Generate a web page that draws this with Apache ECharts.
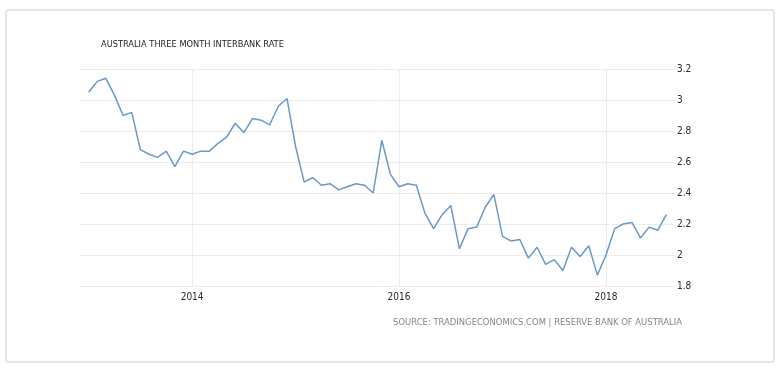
<!DOCTYPE html>
<html>
<head>
<meta charset="utf-8">
<script src="https://cdn.jsdelivr.net/npm/echarts@6/dist/echarts.min.js"></script>
<style>
  html, body { margin: 0; padding: 0; background: #fff; }
  #frame {
    position: absolute; left: 5px; top: 9px; width: 766px; height: 350px;
    border: 2px solid #e6e4e2; border-radius: 4px;
  }
  #chart { position: absolute; left: 0; top: 0; width: 782px; height: 376px; }
</style>
</head>
<body>
<div id="frame"></div>
<div id="chart"></div>
<script>
// monthly values, Jan..Dec
var years = ['2013', '2014', '2015', '2016', '2017', '2018']
var rate2013 = [3.05, 3.12, 3.14, 3.03, 2.90, 2.92, 2.68, 2.65, 2.63, 2.67, 2.57, 2.67]
var rate2014 = [2.65, 2.67, 2.67, 2.72, 2.76, 2.85, 2.79, 2.88, 2.87, 2.84, 2.96, 3.01]
var rate2015 = [2.70, 2.47, 2.50, 2.45, 2.46, 2.42, 2.44, 2.46, 2.45, 2.40, 2.74, 2.52]
var rate2016 = [2.44, 2.46, 2.45, 2.27, 2.17, 2.26, 2.32, 2.04, 2.17, 2.18, 2.31, 2.39]
var rate2017 = [2.12, 2.09, 2.10, 1.98, 2.05, 1.94, 1.97, 1.90, 2.05, 1.99, 2.06, 1.87]
var rate2018 = [2.00, 2.17, 2.20, 2.21, 2.11, 2.18, 2.16, 2.26]
var yearLabels = ['2014', '2016', '2018']

var FONT = '"DejaVu Sans Condensed", "DejaVu Sans", sans-serif'

// one empty month on each side like the original padding
var categories = ['2012-12']
var values = [null]
var perYear = [rate2013, rate2014, rate2015, rate2016, rate2017, rate2018]
years.forEach(function (y, i) {
  perYear[i].forEach(function (v, m) {
    categories.push(y + '-' + (m < 9 ? '0' : '') + (m + 1))
    values.push(v)
  })
})
categories.push('2018-09')
values.push(null)

function isYearTick(idx, val) {
  return val.slice(5) === '01' && yearLabels.indexOf(val.slice(0, 4)) >= 0
}

var chart = echarts.init(document.getElementById('chart'))
chart.setOption({
  animation: false,
  title: {
    text: 'AUSTRALIA THREE MONTH INTERBANK RATE',
    left: 101,
    top: 40,
    padding: 0,
    textStyle: { fontFamily: FONT, fontSize: 9.2, fontWeight: 'normal', color: '#1e1e1e' }
  },
  graphic: [{
    type: 'text',
    right: 100,
    top: 318,
    style: {
      text: 'SOURCE: TRADINGECONOMICS.COM | RESERVE BANK OF AUSTRALIA',
      font: '9.4px ' + FONT,
      fill: '#858585'
    }
  }],
  grid: { left: 80, right: 107, top: 69, bottom: 90 },
  xAxis: {
    type: 'category',
    data: categories,
    boundaryGap: false,
    axisLine: { show: false },
    axisTick: { show: false },
    axisLabel: {
      interval: isYearTick,
      formatter: function (v) { return v.slice(0, 4) },
      margin: 6,
      fontFamily: FONT,
      fontSize: 10,
      color: '#2a2a2a'
    },
    splitLine: { show: true, interval: isYearTick, lineStyle: { color: '#ececec' } }
  },
  yAxis: {
    type: 'value',
    position: 'right',
    min: 1.8,
    max: 3.2,
    interval: 0.2,
    axisLine: { show: false },
    axisTick: { show: false },
    axisLabel: { margin: 2, fontFamily: FONT, fontSize: 10, color: '#2a2a2a' },
    splitLine: { lineStyle: { color: '#ececec' } }
  },
  series: [{
    type: 'line',
    data: values,
    symbol: 'none',
    lineStyle: { color: '#6b99c6', width: 1.5 }
  }]
})
</script>
</body>
</html>
